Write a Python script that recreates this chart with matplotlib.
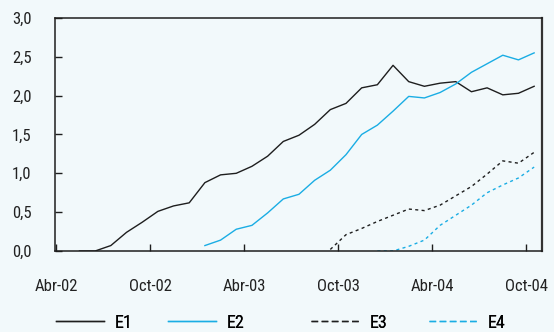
import numpy as np
import matplotlib.pyplot as plt
from matplotlib.lines import Line2D

# months counted from Abr-02 (0); values plotted at mid-month
months_e1 = list(range(1, 31))
e1 = [0.00, 0.00, 0.07, 0.24, 0.37, 0.51, 0.58, 0.62, 0.88, 0.98,
      1.00, 1.09, 1.22, 1.41, 1.49, 1.63, 1.82, 1.90, 2.10, 2.14,
      2.39, 2.18, 2.12, 2.16, 2.18, 2.05, 2.10, 2.01, 2.03, 2.12]

months_e2 = list(range(9, 31))
e2 = [0.07, 0.14, 0.28, 0.33, 0.49, 0.67, 0.73, 0.91, 1.04, 1.24,
      1.50, 1.62, 1.80, 1.99, 1.97, 2.04, 2.15, 2.30, 2.41, 2.52,
      2.46, 2.55]

months_e3 = list(range(17, 31))
e3 = [0.02, 0.21, 0.29, 0.38, 0.46, 0.54, 0.52, 0.59, 0.71, 0.83,
      0.99, 1.16, 1.13, 1.27]

months_e4 = list(range(20, 31))
e4 = [0.00, 0.00, 0.06, 0.14, 0.33, 0.46, 0.59, 0.75, 0.85, 0.94, 1.08]

tick_months = [0, 6, 12, 18, 24, 30]
tick_labels = ['Abr-02', 'Oct-02', 'Abr-03', 'Oct-03', 'Abr-04', 'Oct-04']
series_names = ['E1', 'E2', 'E3', 'E4']

bg = '#f2f9fb'
black = '#1e1e1e'
blue = '#1aade4'
dash_plot = (0, (2.2, 2.4))
dash_key = (0, (4.8, 2.5))

plt.rcParams['font.family'] = ['Roboto Condensed', 'DejaVu Sans']
plt.rcParams['font.size'] = 12

fig = plt.figure(figsize=(5.54, 3.32), dpi=100, facecolor=bg)
ax = fig.add_axes([0.0993, 0.244, 0.8790, 0.702], facecolor=bg)

x1 = np.array(months_e1) + 0.5
x2 = np.array(months_e2) + 0.5
x3 = np.array(months_e3) + 0.5
x4 = np.array(months_e4) + 0.5

ax.plot(x1, e1, color=black, lw=1.0)
ax.plot(x2, e2, color=blue, lw=1.0)
ax.plot(x3, e3, color=black, lw=1.0, ls=dash_plot)
ax.plot(x4, e4, color=blue, lw=1.0, ls=dash_plot)

ax.set_xlim(-0.06, 31.0)
ax.set_ylim(0, 3.0)
ax.set_xticks(tick_months)
ax.set_xticklabels(tick_labels)
ax.set_yticks(np.arange(0, 3.01, 0.5))
ax.set_yticklabels([f'{v:.1f}'.replace('.', ',') for v in np.arange(0, 3.01, 0.5)])

ax.tick_params(axis='both', direction='in', length=5, width=1.0, color=black,
               labelsize=12, labelcolor='#222222')
ax.tick_params(axis='x', pad=20)
ax.tick_params(axis='y', pad=17)
for s in ax.spines.values():
    s.set_color(black)
    s.set_linewidth(1.1)
ax.spines['right'].set_linewidth(1.6)
ax.spines['right'].set_color('#333333')

# one key per series, spaced along the bottom
keys = [Line2D([], [], color=black, lw=1.0),
        Line2D([], [], color=blue, lw=1.0),
        Line2D([], [], color=black, lw=1.0, ls=dash_key),
        Line2D([], [], color=blue, lw=1.0, ls=dash_key)]
key_x = [56, 168, 311, 429]
for handle, name, kx in zip(keys, series_names, key_x):
    leg = fig.legend([handle], [name], loc='center left',
                     bbox_to_anchor=(kx / 554, 1 - 322.5 / 332),
                     frameon=False, handlelength=2.65, handletextpad=0.6,
                     fontsize=13, borderpad=0, borderaxespad=0)
    fig.add_artist(leg)

fig.savefig('out.png', dpi=100, facecolor=bg)
